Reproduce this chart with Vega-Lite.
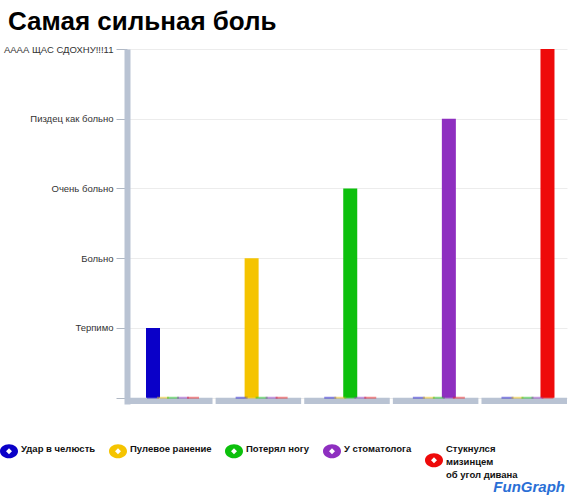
{
  "$schema": "https://vega.github.io/schema/vega-lite/v6.json",
  "width": 440,
  "height": 355,
  "autosize": {"type": "none"},
  "padding": {"left": 127, "top": 49, "right": 3, "bottom": 98},
  "background": "white",
  "title": {
    "text": "Самая сильная боль",
    "anchor": "start",
    "frame": "group",
    "dx": -119,
    "dy": 29,
    "offset": 17,
    "baseline": "alphabetic",
    "font": "Liberation Sans",
    "fontSize": 26,
    "fontWeight": "bold",
    "color": "#000000"
  },
  "datasets": {
    "pain": [
      {"group": "1", "series": "Удар в челюсть", "level": 1},
      {"group": "1", "series": "Пулевое ранение", "level": 0},
      {"group": "1", "series": "Потерял ногу", "level": 0},
      {"group": "1", "series": "У стоматолога", "level": 0},
      {"group": "1", "series": "Стукнулся мизинцем об угол дивана", "level": 0},
      {"group": "2", "series": "Удар в челюсть", "level": 0},
      {"group": "2", "series": "Пулевое ранение", "level": 2},
      {"group": "2", "series": "Потерял ногу", "level": 0},
      {"group": "2", "series": "У стоматолога", "level": 0},
      {"group": "2", "series": "Стукнулся мизинцем об угол дивана", "level": 0},
      {"group": "3", "series": "Удар в челюсть", "level": 0},
      {"group": "3", "series": "Пулевое ранение", "level": 0},
      {"group": "3", "series": "Потерял ногу", "level": 3},
      {"group": "3", "series": "У стоматолога", "level": 0},
      {"group": "3", "series": "Стукнулся мизинцем об угол дивана", "level": 0},
      {"group": "4", "series": "Удар в челюсть", "level": 0},
      {"group": "4", "series": "Пулевое ранение", "level": 0},
      {"group": "4", "series": "Потерял ногу", "level": 0},
      {"group": "4", "series": "У стоматолога", "level": 4},
      {"group": "4", "series": "Стукнулся мизинцем об угол дивана", "level": 0},
      {"group": "5", "series": "Удар в челюсть", "level": 0},
      {"group": "5", "series": "Пулевое ранение", "level": 0},
      {"group": "5", "series": "Потерял ногу", "level": 0},
      {"group": "5", "series": "У стоматолога", "level": 0},
      {"group": "5", "series": "Стукнулся мизинцем об угол дивана", "level": 5}
    ],
    "groups": [
      {"group": "1"}, {"group": "2"}, {"group": "3"}, {"group": "4"}, {"group": "5"}
    ]
  },
  "encoding": {
    "x": {
      "field": "group",
      "type": "nominal",
      "scale": {"paddingInner": 0.035, "paddingOuter": 0},
      "axis": null
    }
  },
  "layer": [
    {
      "data": {"name": "groups"},
      "mark": {"type": "bar", "color": "#b9c3d3"},
      "encoding": {
        "y": {"datum": -0.09, "type": "quantitative"},
        "y2": {"datum": 0}
      }
    },
    {
      "data": {"name": "pain"},
      "mark": {"type": "bar", "width": 14},
      "encoding": {
        "xOffset": {
          "field": "series",
          "type": "nominal",
          "sort": null,
          "scale": {"range": [21, 71], "paddingInner": 0, "paddingOuter": 0}
        },
        "y": {
          "field": "level",
          "type": "quantitative",
          "scale": {"domain": [-0.09, 5], "nice": false, "zero": false},
          "axis": {
            "title": null,
            "values": [0, 1, 2, 3, 4, 5],
            "labelExpr": "['', 'Терпимо', 'Больно', 'Очень больно', 'Пиздец как больно', 'АААА ЩАС СДОХНУ!!!11'][datum.value]",
            "labelFont": "Liberation Sans",
            "labelFontSize": 9.5,
            "labelColor": "#333333",
            "labelPadding": 3,
            "tickSize": 11,
            "tickColor": "#b0b8c4",
            "domainColor": "#b9c3d3",
            "domainWidth": 6,
            "grid": true,
            "gridColor": "#ececec"
          }
        },
        "color": {
          "field": "series",
          "type": "nominal",
          "sort": null,
          "scale": {
            "domain": ["Удар в челюсть", "Пулевое ранение", "Потерял ногу", "У стоматолога", "Стукнулся мизинцем об угол дивана"],
            "range": ["#0a00c8", "#f5c400", "#0cc00c", "#8e2fc0", "#ee0a0a"]
          },
          "legend": {
            "orient": "none",
            "legendX": -127,
            "legendY": 395,
            "direction": "horizontal",
            "title": "FunGraph",
            "titleOrient": "bottom",
            "titleAnchor": "end",
            "titleFont": "Liberation Sans",
            "titleFontSize": 15,
            "titleFontStyle": "italic",
            "titleFontWeight": "bold",
            "titleColor": "#2a6fd6",
            "titlePadding": 0,
            "labelExpr": "datum.label == 'Стукнулся мизинцем об угол дивана' ? ['Стукнулся', 'мизинцем', 'об угол дивана'] : [datum.label, ' ', ' ']",
            "labelFont": "Liberation Sans",
            "labelFontSize": 9.5,
            "labelFontWeight": "bold",
            "labelColor": "#111111",
            "labelLimit": 200,
            "labelOffset": 3,
            "labelBaseline": "top",
            "columnPadding": 13,
            "symbolType": "M -1 0 A 1 0.78 0 1 1 1 0 A 1 0.78 0 1 1 -1 0 Z M 0 -0.33 L -0.33 0 L 0 0.33 L 0.33 0 Z",
            "symbolSize": 324,
            "symbolStrokeWidth": 0,
            "symbolOpacity": 1,
            "encode": {
              "symbols": {
                "update": {
                  "y": {"signal": "datum.value === 'Стукнулся мизинцем об угол дивана' ? 16 : 7"}
                }
              },
              "labels": {
                "update": {"y": {"value": 0}, "lineHeight": {"value": 13}}
              },
              "title": {
                "update": {"dx": {"value": 47}}
              }
            }
          }
        }
      }
    },
    {
      "data": {"name": "pain"},
      "mark": {"type": "tick", "thickness": 2, "size": 12, "opacity": 0.45},
      "encoding": {
        "xOffset": {
          "field": "series",
          "type": "nominal",
          "sort": null,
          "scale": {"range": [21, 71], "paddingInner": 0, "paddingOuter": 0}
        },
        "y": {"datum": 0, "type": "quantitative"},
        "color": {"field": "series", "type": "nominal", "sort": null, "legend": null}
      }
    }
  ],
  "resolve": {"legend": {"color": "independent"}},
  "config": {"view": {"stroke": null}}
}
